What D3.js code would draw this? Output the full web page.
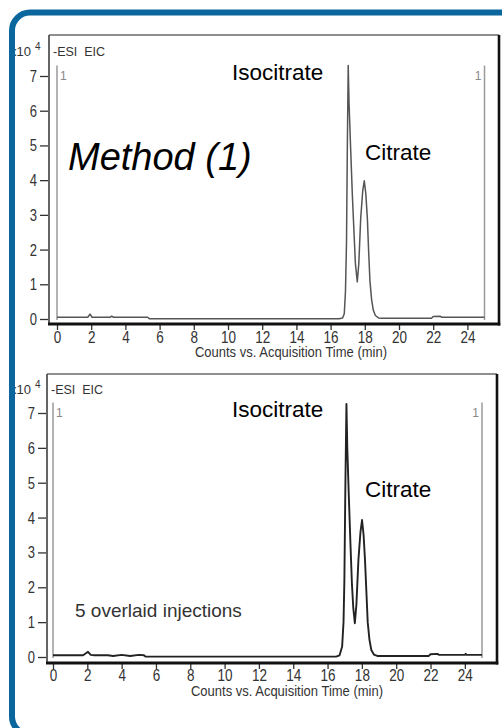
<!DOCTYPE html>
<html>
<head>
<meta charset="utf-8">
<script src="https://cdn.jsdelivr.net/npm/d3@7"></script>
<style>
  html, body { margin: 0; padding: 0; background: #fff; }
  svg { display: block; }
  text { font-family: "Liberation Sans", Arial, sans-serif; }
</style>
</head>
<body>
<svg id="chart" width="502" height="728"></svg>
<script>
// ---------------- DATA ----------------
const xTicks = [0, 2, 4, 6, 8, 10, 12, 14, 16, 18, 20, 22, 24];
const yTicks = [0, 1, 2, 3, 4, 5, 6, 7];
const xTitle = "Counts vs. Acquisition Time (min)";
const scanLabel = "-ESI  EIC";
const peakNames = ["Isocitrate", "Citrate"];
const methodLabel = "Method (1)";
const overlayNote = "5 overlaid injections";

// Panel 1 trace (time in min, counts x10^4)
const time1 = [0, 1.8, 1.93, 2.05, 3.1, 3.2, 3.3, 5.3, 5.4, 16.5, 16.7, 16.8, 16.87, 16.93, 16.98, 17.03,
  17.08, 17.18, 17.27, 17.35, 17.45, 17.56, 17.65, 17.76, 17.88, 17.97, 18.06, 18.15, 18.22, 18.3,
  18.4, 18.5, 18.62, 18.8, 19.0, 21.9, 22.0, 22.4, 22.5, 25.0];
const counts1 = [0.05, 0.05, 0.14, 0.05, 0.05, 0.08, 0.05, 0.05, 0.01, 0.01, 0.03, 0.15, 0.8, 2.2, 5.0, 7.3,
  6.2, 4.8, 3.6, 2.7, 1.6, 1.07, 1.6, 2.9, 3.7, 3.98, 3.6, 2.9, 2.0, 1.1,
  0.55, 0.25, 0.1, 0.03, 0.02, 0.02, 0.07, 0.08, 0.05, 0.05];

// Panel 2 trace (overlaid injections)
const time2 = [0, 1.75, 1.9, 2.04, 2.2, 2.4, 3.2, 3.5, 4.0, 4.5, 5.0, 5.3, 5.4, 16.5, 16.7, 16.85, 16.93, 16.98,
  17.04, 17.1, 17.15, 17.24, 17.33, 17.42, 17.5, 17.59, 17.68, 17.8, 17.92, 18.01, 18.1, 18.18, 18.26,
  18.34, 18.44, 18.55, 18.7, 18.9, 21.9, 22.0, 22.4, 22.5, 24.0, 24.05, 24.1, 25.0];
const counts2 = [0.05, 0.05, 0.1, 0.15, 0.06, 0.05, 0.05, 0.03, 0.06, 0.03, 0.06, 0.05, 0.01, 0.01, 0.05, 0.3, 1.0, 2.2,
  5.0, 7.26, 6.0, 4.6, 3.3, 2.1, 1.4, 0.97, 1.5, 2.8, 3.6, 3.93, 3.5, 2.8, 1.9,
  1.0, 0.5, 0.2, 0.07, 0.03, 0.03, 0.08, 0.09, 0.06, 0.06, 0.09, 0.06, 0.06];

// ---------------- DRAW ----------------
const svg = d3.select("#chart");
svg.append("rect").attr("width", 502).attr("height", 728).attr("fill", "#fff");

function drawPanel(cfg, times, counts) {
  const g = svg.append("g");
  const x = d3.scaleLinear().domain([0, 25]).range([cfg.x0, cfg.x25]);
  const y = d3.scaleLinear().domain([0, 7]).range([cfg.y0, cfg.y7]);

  // frame: top/left grey, right/bottom black thick
  g.append("line").attr("x1", cfg.left).attr("x2", cfg.right).attr("y1", cfg.top).attr("y2", cfg.top)
    .attr("stroke", "#6a6a6a").attr("stroke-width", 1.6);
  g.append("line").attr("x1", cfg.left).attr("x2", cfg.left).attr("y1", cfg.top).attr("y2", cfg.bottom)
    .attr("stroke", "#555").attr("stroke-width", 1.8);
  g.append("line").attr("x1", cfg.right).attr("x2", cfg.right).attr("y1", cfg.top).attr("y2", cfg.bottom + 1.5)
    .attr("stroke", "#111").attr("stroke-width", 2.6);

  // range marker lines with "1"
  [0, 25].forEach(t => {
    g.append("line").attr("x1", x(t)).attr("x2", x(t)).attr("y1", y(7.3)).attr("y2", cfg.y0 + 1)
      .attr("stroke", "#9a9a9a").attr("stroke-width", 1.5);
  });
  g.append("text").attr("x", x(0) + 3).attr("y", cfg.y7 + 4).attr("font-size", 12).attr("fill", "#888").text("1");
  g.append("text").attr("x", x(25) - 3).attr("y", cfg.y7 + 4).attr("text-anchor", "end")
    .attr("font-size", 12).attr("fill", "#888").text("1");

  // trace
  const line = d3.line().x((d, i) => x(times[i])).y(d => y(d));
  g.append("path").datum(counts).attr("d", line).attr("fill", "none")
    .attr("stroke", cfg.stroke).attr("stroke-width", cfg.strokeW).attr("stroke-linejoin", "round");

  // bottom axis
  const xa = g.append("g").attr("transform", `translate(0,${cfg.bottom})`)
    .call(d3.axisBottom(x).tickValues(xTicks).tickSize(6).tickFormat(d3.format("d")));
  xa.select(".domain").remove();
  xa.selectAll(".tick line").attr("stroke", "#333").attr("stroke-width", 1.3);
  xa.selectAll(".tick text").attr("y", null).attr("dy", null)
    .attr("transform", `translate(0,${cfg.tickDy}) scale(1,1.28)`)
    .attr("font-size", 13.5).attr("fill", "#333")
    .attr("font-family", "'Liberation Sans', Arial, sans-serif");
  g.append("line").attr("x1", cfg.left - 1).attr("x2", cfg.right + 1.3).attr("y1", cfg.bottom).attr("y2", cfg.bottom)
    .attr("stroke", "#111").attr("stroke-width", 2.8);

  // left axis
  const ya = g.append("g").attr("transform", `translate(${cfg.left - 1},0)`)
    .call(d3.axisLeft(y).tickValues(yTicks).tickSize(8).tickPadding(3).tickFormat(d3.format("d")));
  ya.select(".domain").remove();
  ya.selectAll(".tick line").attr("stroke", "#333").attr("stroke-width", 1.3);
  ya.selectAll(".tick text").attr("x", null).attr("dy", null)
    .attr("transform", "translate(-11,5.5) scale(1,1.3)")
    .attr("font-size", 13).attr("fill", "#333")
    .attr("font-family", "'Liberation Sans', Arial, sans-serif");

  // axis title
  g.append("text").attr("x", cfg.titleX).attr("y", cfg.titleY).attr("text-anchor", "middle")
    .attr("font-size", 13).attr("fill", "#333")
    .attr("transform", `translate(0,${cfg.titleY}) scale(1,1.1) translate(0,${-cfg.titleY})`)
    .text(xTitle);

  // exponent
  g.append("text").attr("x", 31).attr("y", cfg.expY).attr("text-anchor", "end")
    .attr("font-size", 13).attr("fill", "#333").text("x10");
  g.append("text").attr("x", 35).attr("y", cfg.expY - 6).attr("font-size", 10).attr("fill", "#333").text("4");
  g.append("text").attr("x", cfg.left + 4).attr("y", cfg.expY).attr("font-size", 12.5).attr("fill", "#333")
    .attr("xml:space", "preserve").style("white-space", "pre").text(scanLabel);

  // peak labels
  g.append("text").attr("x", 232).attr("y", cfg.isoY).attr("font-size", 22.5).attr("fill", "#000").text(peakNames[0]);
  g.append("text").attr("x", 365).attr("y", cfg.citY).attr("font-size", 22.5).attr("fill", "#000").text(peakNames[1]);
  return g;
}

drawPanel({ left: 49, right: 499, top: 35, bottom: 324, x0: 57, x25: 484.5, y0: 319, y7: 76, tickDy: 18.5,
  titleX: 291, titleY: 357, expY: 56, isoY: 80, citY: 160, stroke: "#555", strokeW: 1.5 }, time1, counts1);

drawPanel({ left: 47, right: 497, top: 374, bottom: 663, x0: 53, x25: 482, y0: 657, y7: 413, tickDy: 17.5,
  titleX: 287, titleY: 696, expY: 394, isoY: 417, citY: 497, stroke: "#222", strokeW: 1.9 }, time2, counts2);

svg.append("text").attr("x", 68).attr("y", 170).attr("font-size", 38).attr("font-style", "italic")
  .attr("fill", "#000").text(methodLabel);
svg.append("text").attr("x", 75).attr("y", 617).attr("font-size", 19).attr("fill", "#333").text(overlayNote);

// blue rounded border
svg.append("rect").attr("x", 12).attr("y", 12.5).attr("width", 530).attr("height", 722).attr("rx", 18)
  .attr("fill", "none").attr("stroke", "#0b669e").attr("stroke-width", 6);
</script>
</body>
</html>
